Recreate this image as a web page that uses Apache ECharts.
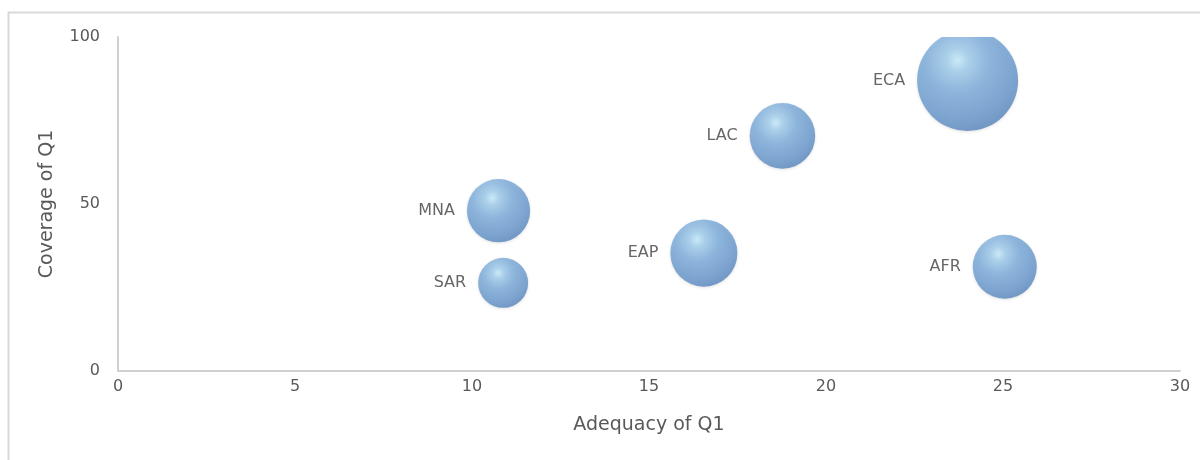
<!DOCTYPE html>
<html>
<head>
<meta charset="utf-8">
<script src="https://cdn.jsdelivr.net/npm/echarts@6/dist/echarts.min.js"></script>
<style>
  html, body { margin: 0; padding: 0; background: #ffffff; }
  #chart { width: 1200px; height: 460px; }
</style>
</head>
<body>
<div id="chart"></div>
<script>
// Data
const regions  = ['ECA', 'LAC', 'MNA', 'EAP', 'SAR', 'AFR'];
const adequacy = [24.0, 18.77, 10.75, 16.55, 10.88, 25.05];
const coverage = [87.0, 70.4, 48.0, 35.3, 26.4, 31.2];
const bubbleSize = [102, 43, 40, 45, 25, 41];
const xTicks = [0, 5, 10, 15, 20, 25, 30];
const yTicks = [0, 50, 100];

const FONT = 'DejaVu Sans';

const points = regions.map((r, i) => ({
  name: r,
  value: [adequacy[i], coverage[i], bubbleSize[i]]
}));

const chart = echarts.init(document.getElementById('chart'), null, { renderer: 'canvas' });

const GRID = { left: 118, right: 20, top: 37, bottom: 89 };

chart.setOption({
  backgroundColor: '#ffffff',
  animation: false,
  graphic: [{
    type: 'rect',
    left: 6, top: 10,
    shape: { width: 1400, height: 800 },
    style: { fill: 'none', stroke: '#d9d9d9', lineWidth: 2 },
    silent: true,
    z: -10
  }, {
    // mask so bubbles are clipped at the plot area's top edge, as in the reference
    type: 'rect',
    left: GRID.left + 2, top: 14,
    shape: { width: 1200 - GRID.left - 2, height: GRID.top - 14 },
    style: { fill: '#ffffff' },
    silent: true,
    z: 100
  }],
  grid: Object.assign({ containLabel: false }, GRID),
  xAxis: {
    type: 'value',
    min: xTicks[0], max: xTicks[xTicks.length - 1], interval: 5,
    name: 'Adequacy of Q1',
    nameLocation: 'middle',
    nameGap: 45,
    nameTextStyle: { fontFamily: FONT, fontSize: 19, color: '#595959' },
    axisLine: { show: true, lineStyle: { color: '#d0d0d0', width: 2 } },
    axisTick: { show: false },
    splitLine: { show: false },
    axisLabel: { fontFamily: FONT, fontSize: 16, color: '#595959', margin: 8 }
  },
  yAxis: {
    type: 'value',
    min: yTicks[0], max: yTicks[yTicks.length - 1], interval: 50,
    name: 'Coverage of Q1',
    nameLocation: 'middle',
    nameGap: 61,
    nameTextStyle: { fontFamily: FONT, fontSize: 19, color: '#595959' },
    axisLine: { show: true, lineStyle: { color: '#d0d0d0', width: 2 } },
    axisTick: { show: false },
    splitLine: { show: false },
    axisLabel: { fontFamily: FONT, fontSize: 16, color: '#595959', margin: 18 }
  },
  series: [{
    type: 'scatter',
    data: points,
    symbolSize: (v) => 10 * Math.sqrt(v[2]),
    itemStyle: {
      color: {
        type: 'radial', x: 0.4, y: 0.3, r: 0.8,
        colorStops: [
          { offset: 0, color: '#c6ecfa' },
          { offset: 0.14, color: '#9ccbec' },
          { offset: 0.4, color: '#78a9d9' },
          { offset: 0.72, color: '#6495cb' },
          { offset: 0.9, color: '#5684bd' },
          { offset: 1, color: '#6690c2' }
        ]
      },
      shadowColor: 'rgba(0,0,0,0.15)',
      shadowBlur: 3,
      shadowOffsetY: 1
    },
    label: {
      show: true,
      position: 'left',
      distance: 12,
      formatter: (p) => p.name,
      fontFamily: FONT,
      fontSize: 16,
      color: '#404040'
    }
  }]
});
</script>
</body>
</html>
